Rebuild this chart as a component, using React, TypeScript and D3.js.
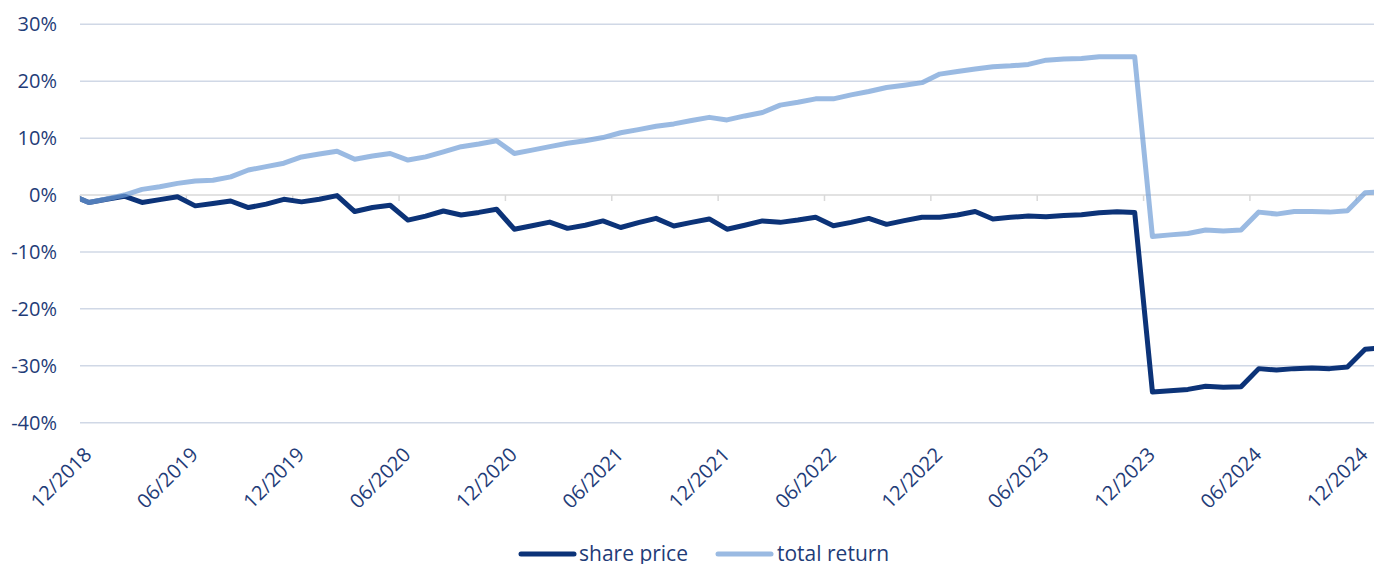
import React from "react";
import * as d3 from "d3";

// monthly points, 11/2018 .. 01/2025 (the first and last sit just outside the plot and get clipped)
const months = d3.timeMonth.range(new Date(2018, 10, 1), new Date(2025, 1, 1));
const fmt = d3.timeFormat("%m/%Y");

const sharePrice = [
  0.0, -1.3, -0.75, -0.2, -1.3, -0.8, -0.3, -1.9, -1.5, -1.05, -2.2, -1.6, -0.75,
  -1.2, -0.75, -0.1, -2.9, -2.2, -1.8, -4.4, -3.7, -2.8, -3.5, -3.05, -2.5,
  -6.0, -5.4, -4.75, -5.85, -5.3, -4.55, -5.7, -4.85, -4.1, -5.45, -4.8, -4.2,
  -6.0, -5.3, -4.55, -4.8, -4.4, -3.9, -5.4, -4.8, -4.1, -5.15, -4.5, -3.9,
  -3.9, -3.5, -2.9, -4.2, -3.9, -3.7, -3.8, -3.6, -3.45, -3.1, -2.95, -3.05,
  -34.6, -34.4, -34.15, -33.6, -33.75, -33.7, -30.5, -30.75, -30.5, -30.4, -30.5, -30.2,
  -27.1, -26.8,
];

const totalReturn = [
  0.0, -1.3, -0.7, 0.0, 1.0, 1.45, 2.05, 2.45, 2.6, 3.2, 4.4, 5.0, 5.6,
  6.7, 7.2, 7.7, 6.3, 6.85, 7.3, 6.15, 6.7, 7.6, 8.5, 8.96, 9.55,
  7.3, 7.9, 8.5, 9.1, 9.55, 10.1, 10.95, 11.5, 12.1, 12.5, 13.1, 13.65,
  13.2, 13.9, 14.5, 15.8, 16.3, 16.9, 16.9, 17.6, 18.2, 18.9, 19.3, 19.75,
  21.25, 21.7, 22.15, 22.55, 22.7, 22.95, 23.7, 23.9, 24.0, 24.3, 24.3, 24.3,
  -7.3, -7.0, -6.75, -6.15, -6.3, -6.15, -3.0, -3.35, -2.9, -2.9, -3.0, -2.75,
  0.4, 0.6,
];

const xTickLabels = [
  "12/2018", "06/2019", "12/2019", "06/2020", "12/2020", "06/2021", "12/2021",
  "06/2022", "12/2022", "06/2023", "12/2023", "06/2024", "12/2024",
];
const yTicks = [30, 20, 10, 0, -10, -20, -30, -40];

const W = 1374;
const H = 564;
const FONT = "'Open Sans', sans-serif";
const TEXT = "#1f3c78";
const DARK = "#0c3378";
const LIGHT = "#6f9dd6";

export default function App() {
  const x = d3.scaleLinear().domain([0.5, 73.5]).range([80, 1374]);
  const y = d3.scaleLinear().domain([-40, 30]).range([422.7, 24.3]);

  const line = d3
    .line<number>()
    .x((d, i) => x(i))
    .y((d) => y(d));

  const labelIdx = xTickLabels.map((l) => months.findIndex((m) => fmt(m) === l));

  return (
    <svg
      width={W}
      height={H}
      style={{ position: "absolute", left: 0, top: 0, background: "#fff" }}
      fontFamily={FONT}
    >
      <defs>
        <clipPath id="plot">
          <rect x={80} y={0} width={1294} height={H} />
        </clipPath>
      </defs>

      {/* gridlines */}
      {yTicks.map((t) => (
        <line
          key={t}
          x1={80}
          x2={W}
          y1={y(t)}
          y2={y(t)}
          stroke={t === 0 ? "#d9d9d9" : "#d0d8e6"}
          strokeWidth={1.5}
        />
      ))}
      {/* ticks on the 0% axis */}
      {labelIdx.map((i) => (
        <line
          key={i}
          x1={x(i - 0.5)}
          x2={x(i - 0.5)}
          y1={y(0)}
          y2={y(0) + 6}
          stroke="#d9d9d9"
          strokeWidth={1.5}
        />
      ))}

      {/* y labels */}
      {yTicks.map((t) => (
        <text
          key={t}
          x={57}
          y={y(t) + 7}
          textAnchor="end"
          fontSize={20}
          fill={TEXT}
        >
          {t + "%"}
        </text>
      ))}

      {/* x labels */}
      {labelIdx.map((i, k) => (
        <text
          key={k}
          transform={`translate(${x(i) + 4},${456}) rotate(-45)`}
          textAnchor="end"
          fontSize={20}
          fill={TEXT}
        >
          {xTickLabels[k]}
        </text>
      ))}

      <g clipPath="url(#plot)" fill="none" strokeLinejoin="round">
        <path d={line(sharePrice) || ""} stroke={DARK} strokeWidth={5} />
        <path d={line(totalReturn) || ""} stroke={LIGHT} strokeOpacity={0.7} strokeWidth={5} />
      </g>

      {/* legend */}
      <line x1={521} x2={574} y1={554} y2={554} stroke={DARK} strokeWidth={5} strokeLinecap="round" />
      <text x={579} y={561} fontSize={21} fill={TEXT}>share price</text>
      <line x1={718} x2={771} y1={554} y2={554} stroke={LIGHT} strokeOpacity={0.7} strokeWidth={5} strokeLinecap="round" />
      <text x={777} y={561} fontSize={21} fill={TEXT}>total return</text>
    </svg>
  );
}
